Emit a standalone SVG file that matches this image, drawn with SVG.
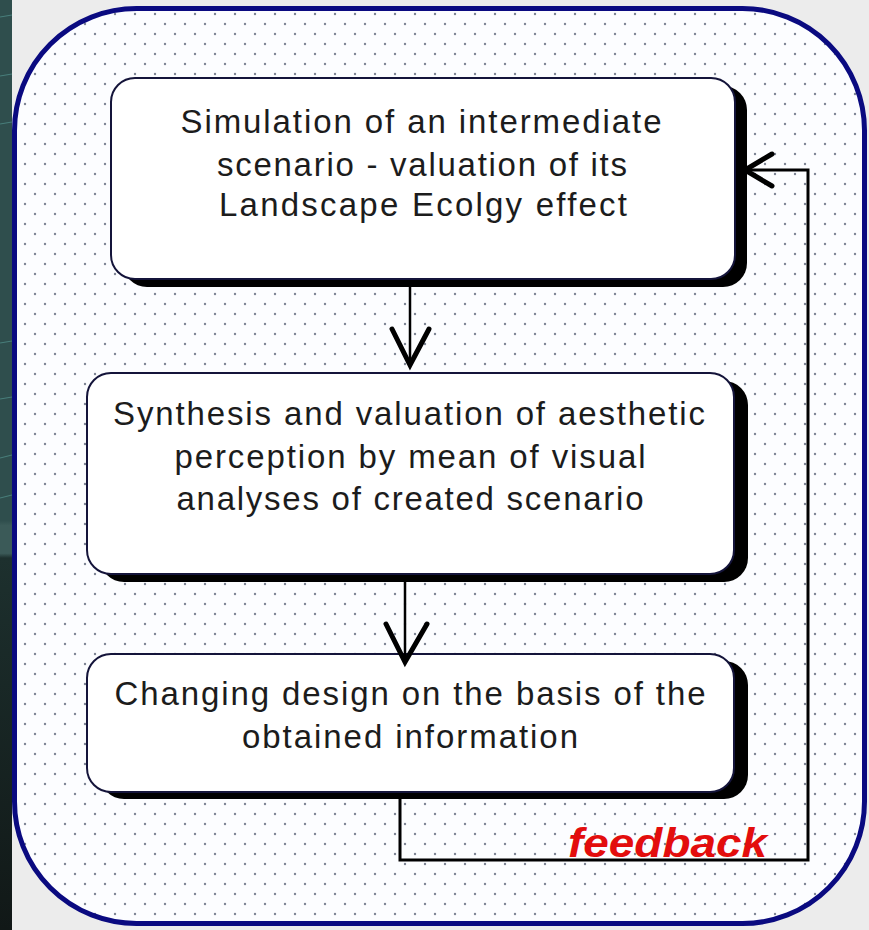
<svg xmlns="http://www.w3.org/2000/svg" width="869" height="930" viewBox="0 0 869 930">
  <defs>
    <pattern id="dots" x="3" y="2" width="20" height="20" patternUnits="userSpaceOnUse">
      <rect width="20" height="20" fill="#fcfdff"/>
      <circle cx="2" cy="2" r="1.2" fill="#7d8494"/>
      <circle cx="12" cy="12" r="1.2" fill="#7d8494"/>
    </pattern>
    <linearGradient id="strip" x1="0" y1="0" x2="0" y2="1">
      <stop offset="0" stop-color="#2f4e4d"/>
      <stop offset="0.56" stop-color="#2f4e4d"/>
      <stop offset="0.565" stop-color="#3b5a58"/>
      <stop offset="0.595" stop-color="#3b5a58"/>
      <stop offset="0.6" stop-color="#1d302e"/>
      <stop offset="1" stop-color="#111817"/>
    </linearGradient>
  </defs>
  <style>
    .shadow { fill: #000; }
    .box { fill: #ffffff; stroke: #14143a; stroke-width: 2; }
    .txt { font-family: "Liberation Sans", Arial, sans-serif; font-size: 33px; fill: #1c1c1c; text-anchor: middle; }
    .conn { fill: none; stroke: #000; stroke-linecap: square; }
    .head { fill: none; stroke: #000; stroke-width: 5; stroke-linecap: round; stroke-linejoin: miter; }
    .fb { font-family: "Liberation Sans", Arial, sans-serif; font-size: 40px; font-weight: bold; font-style: italic; fill: #e30d0d; }
  </style>

  <!-- background -->
  <rect x="0" y="0" width="869" height="930" fill="#ececec"/>
  <rect x="0" y="0" width="12" height="930" fill="url(#strip)"/>
  <g stroke="#4f8a86" stroke-width="1.2" opacity="0.8">
    <line x1="0" y1="17" x2="12" y2="15"/>
    <line x1="0" y1="76" x2="12" y2="74"/>
    <line x1="0" y1="124" x2="12" y2="122"/>
    <line x1="0" y1="343" x2="12" y2="341"/>
    <line x1="0" y1="399" x2="12" y2="397"/>
    <line x1="0" y1="458" x2="12" y2="455"/>
    <line x1="0" y1="498" x2="12" y2="495"/>
  </g>

  <!-- outer frame -->
  <g id="frame">
    <rect x="14.5" y="8.5" width="850" height="915" rx="122" ry="122" fill="url(#dots)" stroke="#0a0a80" stroke-width="5"/>
  </g>

  <!-- node 1 -->
  <g id="node-simulation">
    <rect class="shadow" x="123" y="86" width="624" height="201" rx="24"/>
    <rect class="box" x="111" y="78" width="624" height="201" rx="24"/>
    <text class="txt" x="421" y="133" textLength="481" lengthAdjust="spacing">Simulation of an intermediate</text>
    <text class="txt" x="422" y="176" textLength="410" lengthAdjust="spacing">scenario - valuation of its</text>
    <text class="txt" x="423" y="216" textLength="408" lengthAdjust="spacing">Landscape Ecolgy effect</text>
  </g>

  <!-- node 2 -->
  <g id="node-synthesis">
    <rect class="shadow" x="100" y="381" width="648" height="201" rx="24"/>
    <rect class="box" x="87" y="373" width="647" height="201" rx="24"/>
    <text class="txt" x="409" y="425" textLength="592" lengthAdjust="spacing">Synthesis and valuation of aesthetic</text>
    <text class="txt" x="410" y="468" textLength="471" lengthAdjust="spacing">perception by mean of visual</text>
    <text class="txt" x="410" y="510" textLength="467" lengthAdjust="spacing">analyses of created scenario</text>
  </g>

  <!-- node 3 -->
  <g id="node-changing">
    <rect class="shadow" x="100" y="661" width="648" height="138" rx="24"/>
    <rect class="box" x="87" y="654" width="647" height="138" rx="24"/>
    <text class="txt" x="410" y="705" textLength="591" lengthAdjust="spacing">Changing design on the basis of the</text>
    <text class="txt" x="410" y="748" textLength="336" lengthAdjust="spacing">obtained information</text>
  </g>

  <!-- connectors -->
  <g id="connectors">
    <line class="conn" x1="410" y1="288" x2="410" y2="364" stroke-width="2.5"/>
    <polyline class="head" points="392,329 410,365 429,329"/>
    <line class="conn" x1="405" y1="583" x2="405" y2="661" stroke-width="2.5"/>
    <polyline class="head" points="386,624 405,662 427,624"/>
    <polyline class="conn" points="400,799 400,860 808,860 808,170 745,170" stroke-width="3"/>
    <polyline class="head" points="772,154 745,170 772,186"/>
    <text class="fb" x="568" y="857" textLength="199" lengthAdjust="spacingAndGlyphs">feedback</text>
  </g>
</svg>
